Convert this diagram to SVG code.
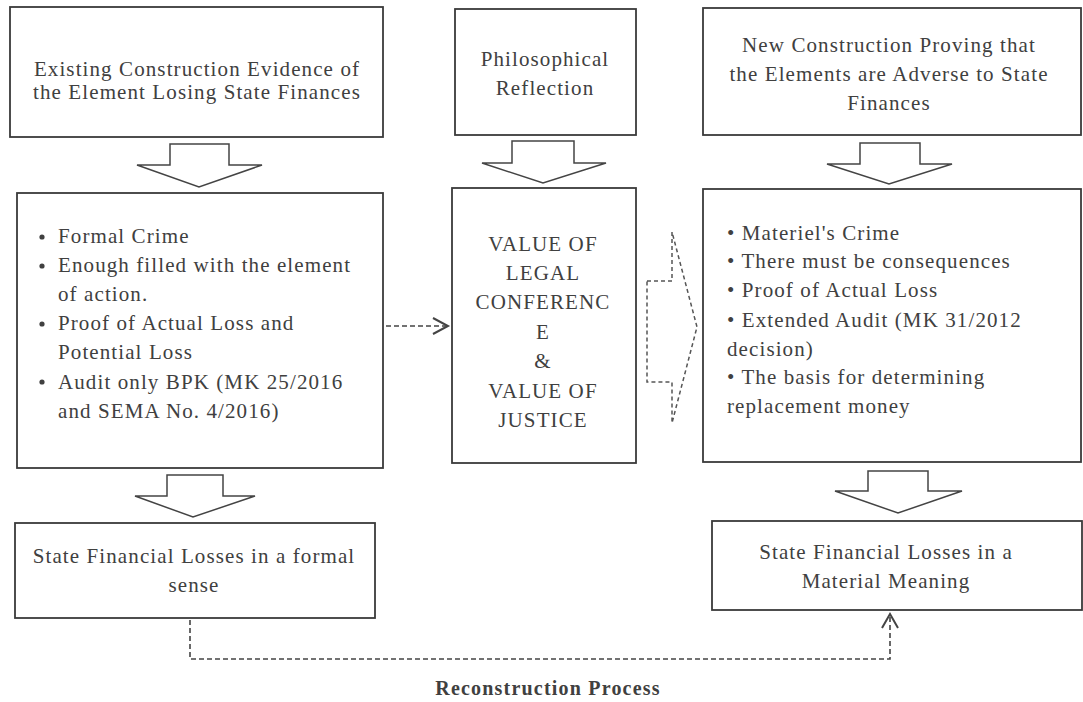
<svg xmlns="http://www.w3.org/2000/svg" width="1083" height="702" viewBox="0 0 1083 702">
  <style>
    .box { fill: #ffffff; stroke: #3a3a3a; stroke-width: 1.8; }
    .blk { fill: #ffffff; stroke: #444444; stroke-width: 1.5; stroke-linejoin: miter; }
    .dblk { fill: #ffffff; stroke: #555555; stroke-width: 1.5; stroke-dasharray: 4 3; }
    .t { font-family: "Liberation Serif", "DejaVu Serif", serif; font-size: 21px; letter-spacing: 1.1px; fill: #404040; }
    .c { text-anchor: middle; }
    .ttl { font-family: "Liberation Serif", "DejaVu Serif", serif; font-size: 20px; font-weight: bold; letter-spacing: 1.2px; fill: #404040; text-anchor: middle; }
    .dash { fill: none; stroke: #444444; stroke-width: 1.6; stroke-dasharray: 5 3; }
    .head { fill: none; stroke: #444444; stroke-width: 2; }
  </style>
  <rect width="1083" height="702" fill="#ffffff"/>

  <g id="existing-construction">
    <rect class="box" x="10" y="7" width="373" height="130"/>
    <text class="t c" x="197" y="76">Existing Construction Evidence of</text>
    <text class="t c" x="197" y="99">the Element Losing State Finances</text>
  </g>

  <g id="philosophical-reflection">
    <rect class="box" x="455" y="9" width="181" height="126"/>
    <text class="t c" x="545" y="66">Philosophical</text>
    <text class="t c" x="545" y="95">Reflection</text>
  </g>

  <g id="new-construction">
    <rect class="box" x="703" y="8" width="378" height="127"/>
    <text class="t c" x="889" y="52">New Construction Proving that</text>
    <text class="t c" x="889" y="81">the Elements are Adverse to State</text>
    <text class="t c" x="889" y="110">Finances</text>
  </g>

  <g id="formal-elements">
    <rect class="box" x="17" y="193" width="366" height="275"/>
    <g class="t">
      <circle cx="42" cy="237" r="2.6" fill="#404040"/>
      <text x="58" y="243">Formal Crime</text>
      <circle cx="42" cy="266" r="2.6" fill="#404040"/>
      <text x="58" y="272">Enough filled with the element</text>
      <text x="58" y="301">of action.</text>
      <circle cx="42" cy="324" r="2.6" fill="#404040"/>
      <text x="58" y="330">Proof of Actual Loss and</text>
      <text x="58" y="359">Potential Loss</text>
      <circle cx="42" cy="382" r="2.6" fill="#404040"/>
      <text x="58" y="389">Audit only BPK (MK 25/2016</text>
      <text x="58" y="418">and SEMA No. 4/2016)</text>
    </g>
  </g>

  <g id="values">
    <rect class="box" x="452" y="188" width="184" height="275"/>
    <text class="t c" x="543" y="251">VALUE OF</text>
    <text class="t c" x="543" y="280">LEGAL</text>
    <text class="t c" x="543" y="309">CONFERENC</text>
    <text class="t c" x="543" y="339">E</text>
    <text class="t c" x="543" y="368">&amp;</text>
    <text class="t c" x="543" y="398">VALUE OF</text>
    <text class="t c" x="543" y="427">JUSTICE</text>
  </g>

  <g id="material-elements">
    <rect class="box" x="703" y="189" width="378" height="273"/>
    <text class="t" x="727" y="240">• Materiel's Crime</text>
    <text class="t" x="727" y="268">• There must be consequences</text>
    <text class="t" x="727" y="297">• Proof of Actual Loss</text>
    <text class="t" x="727" y="327">• Extended Audit (MK 31/2012</text>
    <text class="t" x="727" y="356">decision)</text>
    <text class="t" x="727" y="384">• The basis for determining</text>
    <text class="t" x="727" y="413">replacement money</text>
  </g>

  <g id="formal-losses">
    <rect class="box" x="15" y="523" width="360" height="95"/>
    <text class="t c" x="194" y="563">State Financial Losses in a formal</text>
    <text class="t c" x="194" y="592">sense</text>
  </g>

  <g id="material-losses">
    <rect class="box" x="712" y="521" width="370" height="89"/>
    <text class="t c" x="886" y="559">State Financial Losses in a</text>
    <text class="t c" x="886" y="588">Material Meaning</text>
  </g>

  <g id="connectors">
    <polygon class="blk" points="170,144 229,144 229,165 262,165 199,187 137,165 170,165"/>
    <polygon class="blk" points="512,141 574,141 574,163 606,163 543,183 482,163 512,163"/>
    <polygon class="blk" points="860,143 920,143 920,164 952,164 889,184 827,164 860,164"/>
    <polygon class="blk" points="167,475 223,475 223,496 255,496 193,517 135,496 167,496"/>
    <polygon class="blk" points="868,471 928,471 928,491 962,491 898,513 835,491 868,491"/>
    <polygon class="dblk" points="647,281 672,281 672,232 697,327 672,423 672,382 647,382"/>
    <line class="dash" x1="386" y1="326" x2="446" y2="326"/>
    <polyline class="head" points="433,318 448,326 433,334"/>
    <polyline class="dash" points="190,620 190,659 890,659 890,617"/>
    <polyline class="head" points="882,628 890,614 898,628"/>
  </g>

  <text class="ttl" x="548" y="695">Reconstruction Process</text>
</svg>
